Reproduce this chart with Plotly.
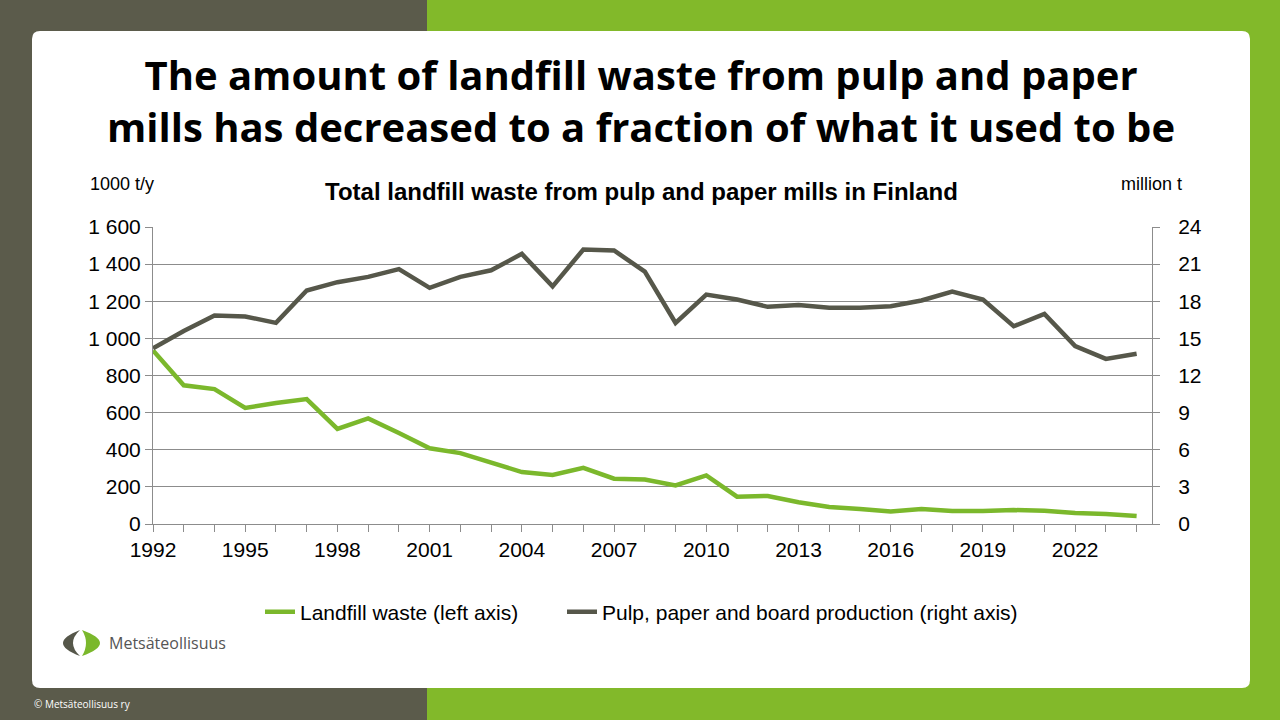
import plotly.graph_objects as go

# data
years = list(range(1992, 2025))
landfill = [935, 747, 727, 625, 652, 673, 512, 569, 490, 408, 382, 334, 280, 264, 303, 244,
            240, 208, 262, 147, 151, 117, 92, 81, 68, 81, 70, 70, 75, 72, 59, 54, 43]
production = [14.2, 15.6, 16.85, 16.77, 16.25, 18.87, 19.54, 19.97, 20.6, 19.08, 19.97, 20.5,
              21.83, 19.2, 22.18, 22.1, 20.4, 16.25, 18.54, 18.14, 17.55, 17.7, 17.47, 17.47,
              17.6, 18.06, 18.79, 18.14, 15.98, 16.98, 14.37, 13.34, 13.75]

GREEN = "#7bb82c"
DARK = "#56574a"
GRID = "#8c8c8c"
W, H = 1280, 720
L, R, T, B = 153, 128, 227, 196
PW, PH = W - L - R, H - T - B


def px(x):
    return (x - L) / PW


def py(y):
    return (H - B - y) / PH


def path(points):
    # points: list of (cmd, x, y ...) in page pixels -> paper coords
    out = []
    for p in points:
        cmd, coords = p[0], p[1:]
        vals = []
        for i in range(0, len(coords), 2):
            vals.append("%.5f,%.5f" % (px(coords[i]), py(coords[i + 1])))
        out.append(cmd + " " + " ".join(vals))
    return " ".join(out) + " Z"


fig = go.Figure()
fig.add_trace(go.Scatter(x=years, y=landfill, mode="lines", name="Landfill waste (left axis)",
                         line=dict(color=GREEN, width=4.5), legend="legend"))
fig.add_trace(go.Scatter(x=years, y=production, mode="lines",
                         name="Pulp, paper and board production (right axis)",
                         line=dict(color=DARK, width=4.5), yaxis="y2", legend="legend2"))

shapes = []
# page background: dark left, green right
shapes.append(dict(type="rect", xref="paper", yref="paper", x0=px(0), x1=px(427), y0=py(720), y1=py(0),
                   fillcolor="#5b5b4b", line_width=0, layer="below"))
shapes.append(dict(type="rect", xref="paper", yref="paper", x0=px(427), x1=px(1280), y0=py(720), y1=py(0),
                   fillcolor="#82b92a", line_width=0, layer="below"))
# white card with rounded corners
r = 8
x0, x1, y0, y1 = 32, 1250, 31, 688
card = path([("M", x0 + r, y0), ("L", x1 - r, y0), ("Q", x1, y0, x1, y0 + r), ("L", x1, y1 - r),
             ("Q", x1, y1, x1 - r, y1), ("L", x0 + r, y1), ("Q", x0, y1, x0, y1 - r),
             ("L", x0, y0 + r), ("Q", x0, y0, x0 + r, y0)])
shapes.append(dict(type="path", xref="paper", yref="paper", path=card, fillcolor="white",
                   line_width=0, layer="below"))
# logo crescents
shapes.append(dict(type="path", xref="paper", yref="paper",
                   path=path([("M", 80, 630), ("Q", 46, 643, 80, 656), ("Q", 66, 643, 80, 630)]),
                   fillcolor=DARK, line_width=0, layer="below"))
shapes.append(dict(type="path", xref="paper", yref="paper",
                   path=path([("M", 82, 630), ("Q", 118, 643, 82, 656), ("Q", 90, 643, 82, 630)]),
                   fillcolor=GREEN, line_width=0, layer="below"))


def note(text, x, y, size, family="Liberation Sans", color="black", xanchor="center"):
    return dict(text=text, x=px(x), y=py(y), xref="paper", yref="paper", showarrow=False,
                xanchor=xanchor, yanchor="middle", align="center",
                font=dict(family=family, size=size, color=color))


annotations = [
    note("<b>The amount of landfill waste from pulp and paper<br>mills has decreased to a fraction of what it used to be</b>",
         641, 100, 40, family="Open Sans"),
    note("<b>Total landfill waste from pulp and paper mills in Finland</b>", 641, 191, 24),
    note("1000 t/y", 122, 184, 18),
    note("million t", 1151, 184, 18),
    note("Metsäteollisuus", 107, 643, 16, family="Open Sans", color="#555555", xanchor="left"),
    note("© Metsäteollisuus ry", 32, 704, 10, family="Open Sans", color="white", xanchor="left"),
]

legend_style = dict(orientation="h", yanchor="middle", y=py(612), xanchor="left",
                    font=dict(size=21), itemwidth=30, bgcolor="rgba(0,0,0,0)")

fig.update_layout(
    width=W, height=H,
    margin=dict(l=L, r=R, t=T, b=B),
    paper_bgcolor="white",
    plot_bgcolor="rgba(0,0,0,0)",
    separators=". ",
    font=dict(family="Liberation Sans", size=21, color="black"),
    shapes=shapes,
    annotations=annotations,
    showlegend=True,
    legend=dict(legend_style, x=px(260)),
    legend2=dict(legend_style, x=px(562)),
    xaxis=dict(range=[1992, 2024.5], tick0=1992, dtick=3, ticks="outside", ticklen=7,
               tickcolor=GRID, showgrid=False, showline=True, linecolor=GRID, linewidth=1,
               zeroline=False, tickfont=dict(size=21),
               minor=dict(dtick=1, tick0=1992, ticks="outside", ticklen=7, tickcolor=GRID, showgrid=False)),
    yaxis=dict(range=[0, 1600], dtick=200, tickformat=",d", ticks="outside", ticklen=7, tickcolor=GRID,
               showgrid=True, gridcolor=GRID, gridwidth=1, showline=True, linecolor=GRID,
               zeroline=False, tickfont=dict(size=21)),
    yaxis2=dict(range=[0, 24], dtick=3, overlaying="y", side="right", ticks="outside", ticklen=7,
                tickcolor=GRID, showgrid=False, showline=True, linecolor=GRID, zeroline=False,
                tickfont=dict(size=21), ticklabelstandoff=14),
)

fig.write_html("out.html", config={"displayModeBar": False},
               post_script="document.body.style.margin='0';")
